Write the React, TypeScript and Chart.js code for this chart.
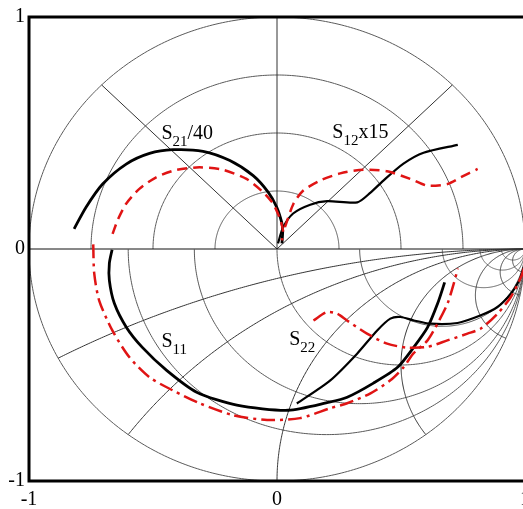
import React, { useEffect, useRef } from 'react';
import { Chart, registerables } from 'chart.js';

Chart.register(...registerables);

// Axis ticks
const tickValues = [-1, 0, 1];

// Grid definition (upper half polar, lower half Smith)
const polarRadii = [0.25, 0.5, 0.75, 1];
const polarAnglesDeg = [45, 90, 135];
const smithResistances = [0.25, 0.5, 1, 2, 5, 10, 20];
const smithReactances = [0.25, 0.5, 1, 2, 5, 10, 20];

// S21/40 (polar, upper half)
const s21SolidX = [-0.818, -0.770, -0.703, -0.608, -0.514, -0.420, -0.298, -0.190, -0.096, -0.035, -0.001, 0.019, 0.023, 0.020];
const s21SolidY = [0.087, 0.180, 0.280, 0.366, 0.412, 0.428, 0.421, 0.381, 0.316, 0.244, 0.180, 0.115, 0.080, 0.024];
const s21DashX = [-0.663, -0.643, -0.609, -0.555, -0.487, -0.406, -0.312, -0.217, -0.123, -0.055, -0.015, 0.012, 0.024, 0.020];
const s21DashY = [0.065, 0.123, 0.194, 0.259, 0.309, 0.341, 0.352, 0.341, 0.302, 0.244, 0.194, 0.130, 0.080, 0.037];

// S12x15 (polar, upper half)
const s12SolidX = [0.004, 0.024, 0.065, 0.134, 0.202, 0.324, 0.377, 0.429, 0.510, 0.591, 0.729];
const s12SolidY = [0.024, 0.092, 0.153, 0.191, 0.206, 0.201, 0.243, 0.295, 0.368, 0.415, 0.449];
const s12DashX = [0.032, 0.066, 0.106, 0.174, 0.255, 0.349, 0.444, 0.538, 0.606, 0.687, 0.741, 0.809];
const s12DashY = [0.094, 0.194, 0.252, 0.295, 0.326, 0.342, 0.335, 0.302, 0.273, 0.280, 0.309, 0.345];

// S11 (Smith, lower half)
const s11SolidX = [-0.665, -0.676, -0.676, -0.656, -0.607, -0.543, -0.445, -0.324, -0.162, 0.045, 0.211, 0.283, 0.389, 0.486, 0.551, 0.607, 0.648, 0.676];
const s11SolidY = [-0.003, -0.062, -0.135, -0.234, -0.338, -0.424, -0.523, -0.617, -0.673, -0.695, -0.660, -0.639, -0.578, -0.510, -0.424, -0.338, -0.234, -0.144];
const s11DashX = [-0.741, -0.737, -0.717, -0.664, -0.595, -0.514, -0.421, -0.312, -0.178, -0.040, 0.093, 0.215, 0.283, 0.377, 0.457, 0.510, 0.551, 0.607, 0.648, 0.688, 0.713, 0.729];
const s11DashY = [0.020, -0.105, -0.222, -0.351, -0.467, -0.553, -0.609, -0.665, -0.716, -0.737, -0.729, -0.686, -0.665, -0.622, -0.566, -0.510, -0.449, -0.394, -0.320, -0.234, -0.148, -0.084];

// S22 (Smith, lower half)
const s22SolidX = [0.080, 0.215, 0.323, 0.404, 0.457, 0.498, 0.552, 0.619, 0.728, 0.822, 0.889, 0.943, 0.977, 0.995];
const s22SolidY = [-0.666, -0.566, -0.451, -0.351, -0.300, -0.293, -0.308, -0.322, -0.319, -0.286, -0.250, -0.193, -0.135, -0.078];
const s22DashX = [0.147, 0.201, 0.242, 0.282, 0.363, 0.444, 0.525, 0.606, 0.687, 0.768, 0.822, 0.889, 0.943, 0.984, 0.997];
const s22DashY = [-0.308, -0.272, -0.279, -0.308, -0.365, -0.408, -0.425, -0.422, -0.394, -0.365, -0.343, -0.279, -0.207, -0.121, -0.078];

const curveLabels = [
  { main: 'S', sub: '21', rest: '/40', x: -0.466, y: 0.475 },
  { main: 'S', sub: '12', rest: 'x15', x: 0.223, y: 0.48 },
  { main: 'S', sub: '11', rest: '', x: -0.466, y: -0.424 },
  { main: 'S', sub: '22', rest: '', x: 0.049, y: -0.415 },
];

const RED = '#e01414';
const BLACK = '#000000';
const SERIF = '"Liberation Serif", "Times New Roman", serif';

const zip = (xs: number[], ys: number[]) => xs.map((v, i) => ({ x: v, y: ys[i] }));

const gridPlugin = {
  id: 'smithPolarGrid',
  beforeDatasetsDraw(chart: any) {
    const { ctx } = chart;
    const sx = chart.scales.x;
    const sy = chart.scales.y;
    const px = (v: number) => sx.getPixelForValue(v);
    const py = (v: number) => sy.getPixelForValue(v);
    ctx.save();
    ctx.lineWidth = 1;
    ctx.strokeStyle = '#5a5a5a';
    const arc = (cx: number, cy: number, r: number, a0: number, a1: number) => {
      const n = 240;
      ctx.beginPath();
      for (let i = 0; i <= n; i++) {
        const a = a0 + ((a1 - a0) * i) / n;
        const X = px(cx + r * Math.cos(a));
        const Y = py(cy + r * Math.sin(a));
        if (i === 0) ctx.moveTo(X, Y);
        else ctx.lineTo(X, Y);
      }
      ctx.stroke();
    };
    polarRadii.forEach((r) => arc(0, 0, r, 0, Math.PI));
    ctx.strokeStyle = '#333333';
    polarAnglesDeg.forEach((d) => {
      const a = (d * Math.PI) / 180;
      ctx.beginPath();
      ctx.moveTo(px(0), py(0));
      ctx.lineTo(px(Math.cos(a)), py(Math.sin(a)));
      ctx.stroke();
    });
    ctx.strokeStyle = '#111111';
    ctx.beginPath();
    ctx.moveTo(px(-1), py(0));
    ctx.lineTo(px(1), py(0));
    ctx.stroke();
    ctx.strokeStyle = '#5a5a5a';
    arc(0, 0, 1, Math.PI, 2 * Math.PI);
    smithResistances.forEach((r) => arc(r / (1 + r), 0, 1 / (1 + r), Math.PI, 2 * Math.PI));
    ctx.strokeStyle = '#333333';
    smithReactances.forEach((xv) => {
      const c = -1 / xv;
      const R = 1 / xv;
      const Px = (xv * xv - 1) / (xv * xv + 1);
      const Py = (-2 * xv) / (xv * xv + 1);
      let aEnd = Math.atan2(Py - c, Px - 1);
      if (aEnd < Math.PI / 2) aEnd += 2 * Math.PI;
      arc(1, c, R, Math.PI / 2, aEnd);
    });
    ctx.restore();
  },
};

const framePlugin = {
  id: 'frameAndLabels',
  afterDraw(chart: any) {
    const { ctx, chartArea } = chart;
    const sx = chart.scales.x;
    const sy = chart.scales.y;
    ctx.save();
    ctx.strokeStyle = '#000';
    ctx.lineWidth = 3;
    ctx.beginPath();
    ctx.moveTo(chartArea.right, chartArea.top);
    ctx.lineTo(chartArea.left, chartArea.top);
    ctx.lineTo(chartArea.left, chartArea.bottom);
    ctx.lineTo(chartArea.right, chartArea.bottom);
    ctx.stroke();

    ctx.fillStyle = '#000';
    ctx.textBaseline = 'alphabetic';
    ctx.textAlign = 'left';
    curveLabels.forEach((l) => {
      let X = sx.getPixelForValue(l.x);
      const Y = sy.getPixelForValue(l.y);
      ctx.font = `20px ${SERIF}`;
      ctx.fillText(l.main, X, Y);
      X += ctx.measureText(l.main).width;
      ctx.font = `15px ${SERIF}`;
      ctx.fillText(l.sub, X, Y + 7);
      X += ctx.measureText(l.sub).width;
      if (l.rest) {
        ctx.font = `20px ${SERIF}`;
        ctx.fillText(l.rest, X, Y);
      }
    });
    ctx.restore();
  },
};

const lineDs = (xs: number[], ys: number[], color: string, width: number, dash: number[]) => ({
  data: zip(xs, ys),
  showLine: true,
  borderColor: color,
  backgroundColor: color,
  borderWidth: width,
  borderDash: dash,
  pointRadius: 0,
  tension: 0.25,
  fill: false,
});

export default function App() {
  const ref = useRef<HTMLCanvasElement | null>(null);
  useEffect(() => {
    if (!ref.current) return;
    const chart = new Chart(ref.current, {
      type: 'scatter',
      data: {
        datasets: [
          lineDs(s21DashX, s21DashY, RED, 2.5, [10, 6]),
          lineDs(s12DashX, s12DashY, RED, 2.5, [10, 6]),
          lineDs(s11DashX, s11DashY, RED, 2.5, [14, 5, 3, 5]),
          lineDs(s22DashX, s22DashY, RED, 2.5, [14, 5, 3, 5]),
          lineDs(s21SolidX, s21SolidY, BLACK, 2.8, []),
          lineDs(s12SolidX, s12SolidY, BLACK, 2.2, []),
          lineDs(s11SolidX, s11SolidY, BLACK, 2.8, []),
          lineDs(s22SolidX, s22SolidY, BLACK, 2.2, []),
        ],
      } as any,
      options: {
        animation: false,
        responsive: false,
        devicePixelRatio: 1,
        layout: { padding: { top: 17, right: 1, left: 0, bottom: 0 }, autoPadding: false },
        plugins: { legend: { display: false }, tooltip: { enabled: false } },
        scales: {
          x: {
            type: 'linear',
            min: -1,
            max: 1,
            afterBuildTicks: (s: any) => {
              s.ticks = tickValues.map((v) => ({ value: v }));
            },
            afterFit: (s: any) => {
              s.height = 28;
              s.paddingLeft = 0;
              s.paddingRight = 0;
            },
            grid: { display: false, drawTicks: false },
            border: { display: false },
            ticks: {
              color: '#000',
              font: { family: SERIF, size: 20 },
              padding: 7,
              maxRotation: 0,
              autoSkip: false,
            },
          },
          y: {
            type: 'linear',
            min: -1,
            max: 1,
            afterBuildTicks: (s: any) => {
              s.ticks = tickValues.map((v) => ({ value: v }));
            },
            afterFit: (s: any) => {
              s.width = 29;
              s.paddingTop = 0;
              s.paddingBottom = 0;
            },
            grid: { display: false, drawTicks: false },
            border: { display: false },
            ticks: {
              color: '#000',
              font: { family: SERIF, size: 20 },
              padding: 4,
              autoSkip: false,
            },
          },
        },
      } as any,
      plugins: [gridPlugin, framePlugin],
    });
    return () => chart.destroy();
  }, []);

  return (
    <div
      style={{
        position: 'fixed',
        left: 0,
        top: 0,
        width: 523,
        height: 509,
        overflow: 'hidden',
        background: '#fff',
      }}
    >
      <canvas ref={ref} width={526} height={509} style={{ display: 'block' }} />
    </div>
  );
}
